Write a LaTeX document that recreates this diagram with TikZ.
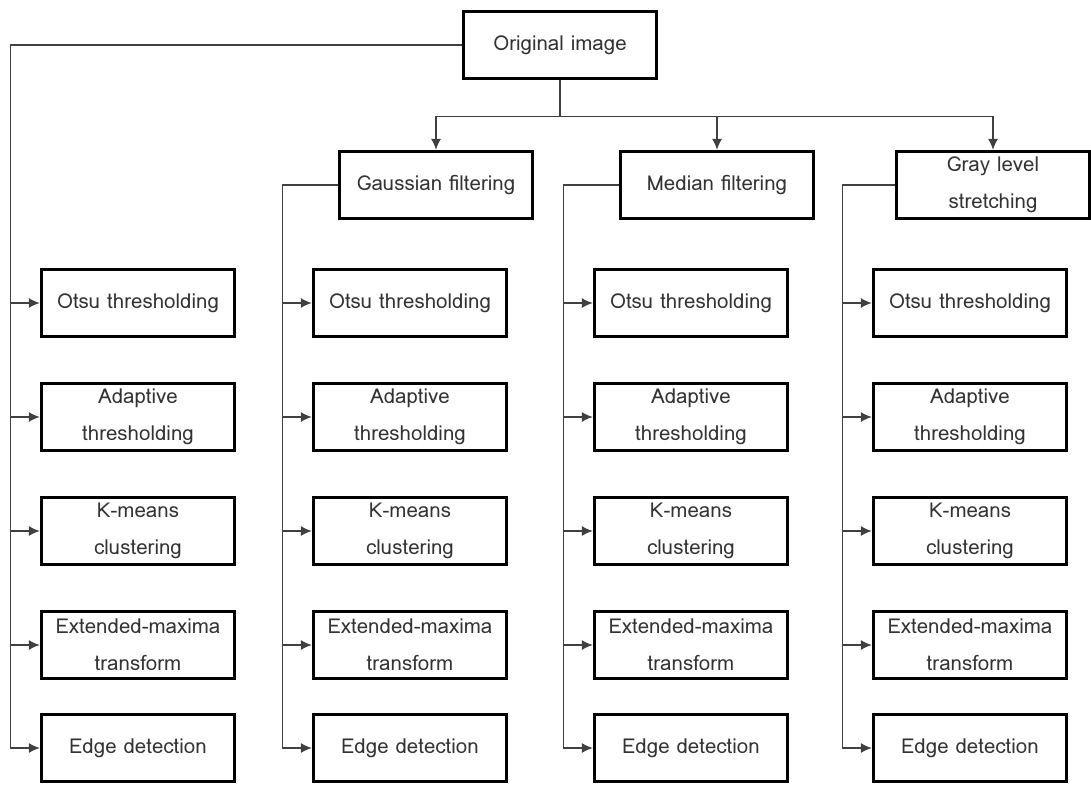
\documentclass[tikz,border=0pt]{standalone}
\usepackage{fontspec}
\setmainfont{Loma}
\usetikzlibrary{arrows.meta}

\begin{document}
\begin{tikzpicture}[x=1pt,y=-1pt,
  box/.style={draw=black,line width=3.3pt,minimum width=193pt,minimum height=67pt,
    inner sep=0pt,align=center,text=black!80,font=\fontsize{20.5}{37}\selectfont},
  link/.style={draw=black!75,line width=1.3pt},
  tip/.style={-{Latex[length=11pt,width=10pt]}}]
\useasboundingbox (0,0) rectangle (1091,784);
% top of the tree
\node[box](orig)at(560,45){Original image};
\node[box](f1)at(436,185){Gaussian filtering};
\node[box](f2)at(717,185){Median filtering};
\node[box](f3)at(993,185){Gray level\\stretching};
\draw[link](orig.south)--++(0,36)coordinate(bus);
\foreach \f in {f1,f2,f3} \draw[link,tip](bus)-|(\f.north);
% one column of methods for each source
\foreach \c/\x/\p in {0/138/orig,1/410/f1,2/691/f2,3/970/f3}{
  \node[box](otsu\c)at(\x,303){Otsu thresholding};
  \node[box](adap\c)at(\x,417){Adaptive\\thresholding};
  \node[box](kmea\c)at(\x,531){K-means\\clustering};
  \node[box](extm\c)at(\x,645){Extended-maxima\\transform};
  \node[box](edge\c)at(\x,748){Edge detection};
  \draw[link,tip](\p.west)-|([xshift=-29.5pt]edge\c.west)--(edge\c.west);
  \foreach \m in {otsu,adap,kmea,extm}
    \draw[link,tip]([xshift=-29.5pt]\m\c.west)--(\m\c.west);
}
\end{tikzpicture}
\end{document}
